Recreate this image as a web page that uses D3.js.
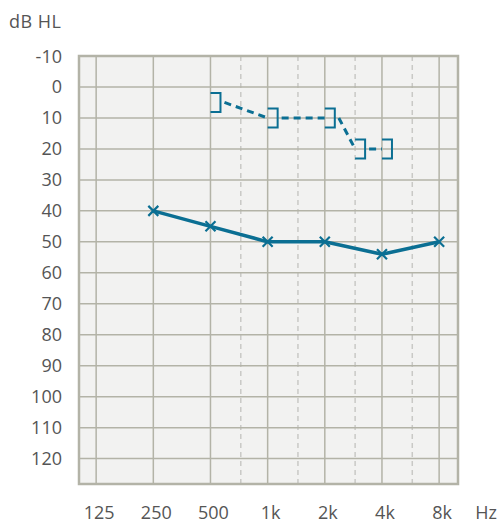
<!DOCTYPE html>
<html>
<head>
<meta charset="utf-8">
<script src="https://cdn.jsdelivr.net/npm/d3@7"></script>
<style>
  body{margin:0;background:#fff;}
  svg{display:block;font-family:"Open Sans",sans-serif;}
</style>
</head>
<body>
<svg id="chart" width="500" height="524"></svg>
<script>
"use strict";
// octave frequencies (Hz) and their labels
var freqs = [125, 250, 500, 1000, 2000, 4000, 8000],
    freqLabels = ["125", "250", "500", "1k", "2k", "4k", "8k"],
    // half-octave dashed grid lines
    interFreqs = [750, 1500, 3000, 6000],
    dbTicks = [-10, 0, 10, 20, 30, 40, 50, 60, 70, 80, 90, 100, 110, 120];

// air conduction (solid, x markers)
var airFreqs = [250, 500, 1000, 2000, 4000, 8000],
    airDb = [40, 45, 50, 50, 54, 50];
// bone conduction (dashed, ] brackets)
var boneFreqs = [500, 1000, 2000, 3000, 4000],
    boneDb = [5, 10, 10, 20, 20];

var colours = {
    bg: "#f2f2f1",
    grid: "#b3b3a7",
    dashGrid: "#c9c9c6",
    line: "#0b6f93",
    text: "#555555"
};

var plotL = 79, plotR = 458, plotT = 56, plotB = 484;

// octave index: 125 -> 0, 8k -> 6
var oct = function(f){ return Math.log2(f / 125); };
var x = d3.scaleLinear().domain([-0.3, 6.33]).range([plotL, plotR]);
// interoctave lines sit near the middle of the octave
var xInter = function(f){ return x(Math.floor(oct(f)) + 0.53); };
var xf = function(f){
    return freqs.indexOf(f) >= 0 ? x(oct(f)) : xInter(f);
};
var y = d3.scaleLinear().domain([-10, 128.2]).range([plotT, plotB]);

var svg = d3.select("#chart");

svg.append("rect")
    .attr("x", plotL).attr("y", plotT)
    .attr("width", plotR - plotL).attr("height", plotB - plotT)
    .style("fill", colours.bg);

//Dashed interoctave grid
svg.append("g").selectAll("line").data(interFreqs).enter().append("line")
    .attr("x1", d => xInter(d)).attr("x2", d => xInter(d))
    .attr("y1", plotT).attr("y2", plotB)
    .style("stroke", colours.dashGrid).style("stroke-width", 1.5)
    .style("stroke-dasharray", "5,4");

//Octave grid
svg.append("g").selectAll("line").data(freqs).enter().append("line")
    .attr("x1", d => xf(d)).attr("x2", d => xf(d))
    .attr("y1", plotT).attr("y2", plotB)
    .style("stroke", colours.grid).style("stroke-width", 1.5);

svg.append("g").selectAll("line").data(dbTicks.slice(1)).enter().append("line")
    .attr("x1", plotL).attr("x2", plotR)
    .attr("y1", d => y(d)).attr("y2", d => y(d))
    .style("stroke", colours.grid).style("stroke-width", 1.5);

//Border
svg.append("rect")
    .attr("x", plotL).attr("y", plotT)
    .attr("width", plotR - plotL).attr("height", plotB - plotT)
    .style("fill", "none").style("stroke", colours.grid).style("stroke-width", 2.5);

//Y labels
svg.append("g").selectAll("text").data(dbTicks).enter().append("text")
    .attr("x", 62).attr("y", d => y(d) + 6.5)
    .style("text-anchor", "end").style("font-size", "18px")
    .style("fill", colours.text)
    .text(d => d);

svg.append("text")
    .attr("x", 9).attr("y", 28)
    .style("font-size", "18px").style("fill", colours.text)
    .style("letter-spacing", "0.5px")
    .text("dB HL");

//X labels
svg.append("g").selectAll("text").data(freqs).enter().append("text")
    .attr("x", d => xf(d) + 3).attr("y", 519)
    .style("text-anchor", "middle").style("font-size", "18px")
    .style("fill", colours.text)
    .text((d, i) => freqLabels[i]);

svg.append("text")
    .attr("x", 486).attr("y", 519)
    .style("text-anchor", "middle").style("font-size", "18px")
    .style("fill", colours.text)
    .text("Hz");

//Bone conduction: dashed segments from right of each bracket to the next point
var bone = boneFreqs.map((f, i) => ({x: xf(f), y: y(boneDb[i])})),
    bw = 10, bh = 9.5;

svg.append("g").selectAll("line").data(bone.slice(1)).enter().append("line")
    .attr("x1", (d, i) => bone[i].x + bw + 4).attr("y1", (d, i) => bone[i].y)
    .attr("x2", d => d.x).attr("y2", d => d.y)
    .style("stroke", colours.line).style("stroke-width", 3)
    .style("stroke-dasharray", "7,5");

svg.append("g").selectAll("path").data(bone).enter().append("path")
    .attr("d", d => "M" + d.x + "," + (d.y - bh) + "H" + (d.x + bw) +
          "V" + (d.y + bh) + "H" + d.x)
    .style("fill", "none").style("stroke", colours.line).style("stroke-width", 2);

//Air conduction
var air = airFreqs.map((f, i) => [xf(f), y(airDb[i])]);

svg.append("path")
    .attr("d", d3.line()(air))
    .style("fill", "none").style("stroke", colours.line)
    .style("stroke-width", 3.5).style("stroke-linejoin", "round");

var m = 5;
svg.append("g").selectAll("path").data(air).enter().append("path")
    .attr("d", d => "M" + (d[0] - m) + "," + (d[1] - m) + "L" + (d[0] + m) + "," + (d[1] + m) +
          "M" + (d[0] - m) + "," + (d[1] + m) + "L" + (d[0] + m) + "," + (d[1] - m))
    .style("stroke", colours.line).style("stroke-width", 2.2);
</script>
</body>
</html>
